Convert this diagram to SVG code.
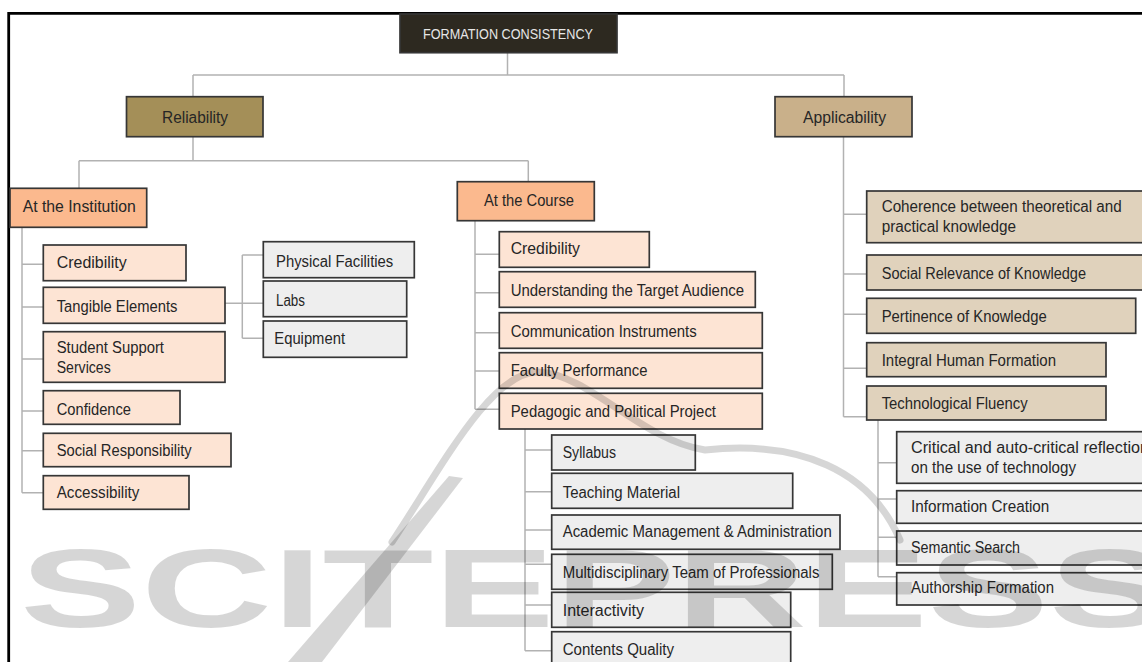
<svg xmlns="http://www.w3.org/2000/svg" width="1142" height="662" viewBox="0 0 1142 662">
<style>
.bx{stroke:#363636;stroke-width:1.7}
.root{fill:#2d2920}
.l1a{fill:#a48f58}
.l1b{fill:#c9b08a}
.l2{fill:#fbb98e}
.pk{fill:#fde4d4}
.gy{fill:#eeeeee}
.tn{fill:#e0d2bc}
.t{font-family:"Liberation Sans",Arial,sans-serif;font-size:16px;fill:#262626}
.rt{font-family:"Liberation Sans",Arial,sans-serif;font-size:15px;fill:#e6e6e6}
.cn{fill:none;stroke:#b2b2b2;stroke-width:1.5}
.wm{fill:#000;fill-opacity:0.16}
</style>
<rect x="0" y="0" width="1142" height="662" fill="#ffffff"/>
<g id="frame" stroke="#000" stroke-width="2.8" fill="none">
<path d="M8.7 662 V13.3 H1142"/>
</g>
<g id="connectors" class="cn">
<path d="M507.5 52.7 V75 M193 75 H844 M193 75 V96.7 M844 75 V96.7"/>
<path d="M193 136.7 V160.7 M79 160.7 H528.3 M79 160.7 V188.3 M528.3 160.7 V181.7"/>
<path d="M22 227.3 V492.7 M22 264.3 H43.3 M22 307 H43.3 M22 359 H43.3 M22 411 H43.3 M22 450.7 H43.3 M22 492.7 H43.3"/>
<path d="M225 303.3 H263.3 M242.3 255 V338.3 M242.3 255 H263.3 M242.3 338.3 H263.3"/>
<path d="M475 220.7 V409.3 M475 254.3 H499.3 M475 292.7 H499.3 M475 332.7 H499.3 M475 371 H499.3 M475 409.3 H499.3"/>
<path d="M525 429 V650.7 M525 450 H551.7 M525 491.7 H551.7 M525 530 H551.7 M525 564.3 H551.7 M525 605 H551.7 M525 650.7 H551.7"/>
<path d="M843.5 136.7 V416.7 M843.5 214.3 H866.7 M843.5 274 H866.7 M843.5 314.3 H866.7 M843.5 368.3 H866.7 M843.5 416.7 H866.7"/>
<path d="M878 420 V576.7 M878 462.7 H896.7 M878 499 H896.7 M878 537.3 H896.7 M878 576.7 H896.7"/>
</g>
<g id="n-root"><rect class="bx root" x="400" y="14" width="217" height="38.7"/><text class="rt" x="423" y="38.5" textLength="170" lengthAdjust="spacingAndGlyphs">FORMATION CONSISTENCY</text></g>
<g id="n-reliability"><rect class="bx l1a" x="126.5" y="96.7" width="136.5" height="40"/><text class="t" x="162" y="122.5" textLength="66" lengthAdjust="spacingAndGlyphs">Reliability</text></g>
<g id="n-applicability"><rect class="bx l1b" x="775" y="96.7" width="137" height="40"/><text class="t" x="803" y="122.5" textLength="83" lengthAdjust="spacingAndGlyphs">Applicability</text></g>
<g id="n-institution"><rect class="bx l2" x="10" y="188.3" width="136.7" height="39"/><text class="t" x="22.7" y="212.3" textLength="113" lengthAdjust="spacingAndGlyphs">At the Institution</text></g>
<g id="n-i-credibility"><rect class="bx pk" x="43.3" y="245" width="142.7" height="35.7"/><text class="t" x="56.7" y="268.3" textLength="70" lengthAdjust="spacingAndGlyphs">Credibility</text></g>
<g id="n-tangible"><rect class="bx pk" x="43.3" y="287.3" width="181.7" height="36"/><text class="t" x="56.7" y="311.7" textLength="120.7" lengthAdjust="spacingAndGlyphs">Tangible Elements</text></g>
<g id="n-student"><rect class="bx pk" x="43.3" y="331.7" width="181.7" height="50.6"/><text class="t" x="56.7" y="352.7" textLength="107.3" lengthAdjust="spacingAndGlyphs">Student Support</text><text class="t" x="56.7" y="372.7" textLength="54" lengthAdjust="spacingAndGlyphs">Services</text></g>
<g id="n-confidence"><rect class="bx pk" x="43.3" y="390.7" width="136.7" height="33.6"/><text class="t" x="56.7" y="415" textLength="74.3" lengthAdjust="spacingAndGlyphs">Confidence</text></g>
<g id="n-social-resp"><rect class="bx pk" x="43.3" y="433.3" width="187.7" height="33.4"/><text class="t" x="56.7" y="456" textLength="135" lengthAdjust="spacingAndGlyphs">Social Responsibility</text></g>
<g id="n-accessibility"><rect class="bx pk" x="43.3" y="475.7" width="145.7" height="33.6"/><text class="t" x="56.7" y="498.3" textLength="82.7" lengthAdjust="spacingAndGlyphs">Accessibility</text></g>
<g id="n-physical"><rect class="bx gy" x="263.3" y="241.7" width="151" height="36"/><text class="t" x="276" y="266.7" textLength="117.3" lengthAdjust="spacingAndGlyphs">Physical Facilities</text></g>
<g id="n-labs"><rect class="bx gy" x="263.3" y="281" width="143.4" height="35.7"/><text class="t" x="276" y="305.5" textLength="29" lengthAdjust="spacingAndGlyphs">Labs</text></g>
<g id="n-equipment"><rect class="bx gy" x="263.3" y="321" width="143.4" height="36.3"/><text class="t" x="274.3" y="344" textLength="70.7" lengthAdjust="spacingAndGlyphs">Equipment</text></g>
<g id="n-course"><rect class="bx l2" x="457.3" y="181.7" width="137" height="39"/><text class="t" x="484" y="206" textLength="90" lengthAdjust="spacingAndGlyphs">At the Course</text></g>
<g id="n-c-credibility"><rect class="bx pk" x="499.3" y="231.7" width="150" height="35.6"/><text class="t" x="510.7" y="254" textLength="69.3" lengthAdjust="spacingAndGlyphs">Credibility</text></g>
<g id="n-understanding"><rect class="bx pk" x="499.3" y="271.7" width="256" height="35.6"/><text class="t" x="510.7" y="296" textLength="233.3" lengthAdjust="spacingAndGlyphs">Understanding the Target Audience</text></g>
<g id="n-communication"><rect class="bx pk" x="499.3" y="312.7" width="263" height="35.6"/><text class="t" x="510.7" y="336.7" textLength="186" lengthAdjust="spacingAndGlyphs">Communication Instruments</text></g>
<g id="n-faculty"><rect class="bx pk" x="499.3" y="352.7" width="263" height="35.6"/><text class="t" x="510.7" y="376" textLength="136.7" lengthAdjust="spacingAndGlyphs">Faculty Performance</text></g>
<g id="n-pedagogic"><rect class="bx pk" x="499.3" y="393.3" width="263" height="35.7"/><text class="t" x="510.7" y="416.7" textLength="205.3" lengthAdjust="spacingAndGlyphs">Pedagogic and Political Project</text></g>
<g id="n-syllabus"><rect class="bx gy" x="551.7" y="435" width="143.6" height="35"/><text class="t" x="562.7" y="458.3" textLength="53.3" lengthAdjust="spacingAndGlyphs">Syllabus</text></g>
<g id="n-teaching"><rect class="bx gy" x="551.7" y="473.3" width="241" height="35"/><text class="t" x="562.7" y="498.3" textLength="117.3" lengthAdjust="spacingAndGlyphs">Teaching Material</text></g>
<g id="n-academic"><rect class="bx gy" x="551.7" y="515" width="288.3" height="34.3"/><text class="t" x="562.7" y="537.3" textLength="269" lengthAdjust="spacingAndGlyphs">Academic Management &amp; Administration</text></g>
<g id="n-multidisciplinary"><rect class="bx gy" x="551.7" y="554.3" width="280.6" height="35"/><text class="t" x="562.7" y="578.3" textLength="256.7" lengthAdjust="spacingAndGlyphs">Multidisciplinary Team of Professionals</text></g>
<g id="n-interactivity"><rect class="bx gy" x="551.7" y="592.3" width="239" height="35"/><text class="t" x="562.7" y="616" textLength="81.3" lengthAdjust="spacingAndGlyphs">Interactivity</text></g>
<g id="n-contents"><rect class="bx gy" x="551.7" y="631.7" width="239" height="40"/><text class="t" x="562.7" y="655" textLength="111.3" lengthAdjust="spacingAndGlyphs">Contents Quality</text></g>
<g id="n-coherence"><rect class="bx tn" x="866.7" y="191" width="290" height="51.7"/><text class="t" x="881.7" y="211.7" textLength="240" lengthAdjust="spacingAndGlyphs">Coherence between theoretical and</text><text class="t" x="881.7" y="231.7" textLength="134.3" lengthAdjust="spacingAndGlyphs">practical knowledge</text></g>
<g id="n-relevance"><rect class="bx tn" x="866.7" y="255" width="290" height="35"/><text class="t" x="881.7" y="279" textLength="204.3" lengthAdjust="spacingAndGlyphs">Social Relevance of Knowledge</text></g>
<g id="n-pertinence"><rect class="bx tn" x="866.7" y="298.3" width="269" height="35"/><text class="t" x="881.7" y="321.7" textLength="165" lengthAdjust="spacingAndGlyphs">Pertinence of Knowledge</text></g>
<g id="n-integral"><rect class="bx tn" x="866.7" y="342.7" width="239.3" height="34"/><text class="t" x="881.7" y="365.7" textLength="174.3" lengthAdjust="spacingAndGlyphs">Integral Human Formation</text></g>
<g id="n-techfluency"><rect class="bx tn" x="866.7" y="386" width="239.3" height="34"/><text class="t" x="881.7" y="409.3" textLength="146" lengthAdjust="spacingAndGlyphs">Technological Fluency</text></g>
<g id="n-critical"><rect class="bx gy" x="896.7" y="431.7" width="260" height="51.6"/><text class="t" x="911" y="453.3" textLength="238" lengthAdjust="spacingAndGlyphs">Critical and auto-critical reflection</text><text class="t" x="911" y="473.3" textLength="165" lengthAdjust="spacingAndGlyphs">on the use of technology</text></g>
<g id="n-infocreation"><rect class="bx gy" x="896.7" y="490.7" width="260" height="32.6"/><text class="t" x="911" y="511.7" textLength="138.3" lengthAdjust="spacingAndGlyphs">Information Creation</text></g>
<g id="n-semantic"><rect class="bx gy" x="896.7" y="531" width="260" height="34"/><text class="t" x="911" y="552.7" textLength="109" lengthAdjust="spacingAndGlyphs">Semantic Search</text></g>
<g id="n-authorship"><rect class="bx gy" x="896.7" y="572.7" width="260" height="32.3"/><text class="t" x="911" y="593.3" textLength="143" lengthAdjust="spacingAndGlyphs">Authorship Formation</text></g>
<g id="watermark">
<text class="wm" x="20" y="627" font-family="Liberation Sans, Arial, sans-serif" font-weight="bold" font-size="112" textLength="1150" lengthAdjust="spacingAndGlyphs">SCITEPRESS</text>
<polygon class="wm" points="288,662 322,662 463,478 449,476"/>
<path d="M392 542 C440 470 490 372 538 372 C590 374 640 440 705 450 C800 440 870 470 900 540" fill="none" stroke="#000" stroke-opacity="0.16" stroke-width="7" stroke-linecap="round"/>
</g>
</svg>
